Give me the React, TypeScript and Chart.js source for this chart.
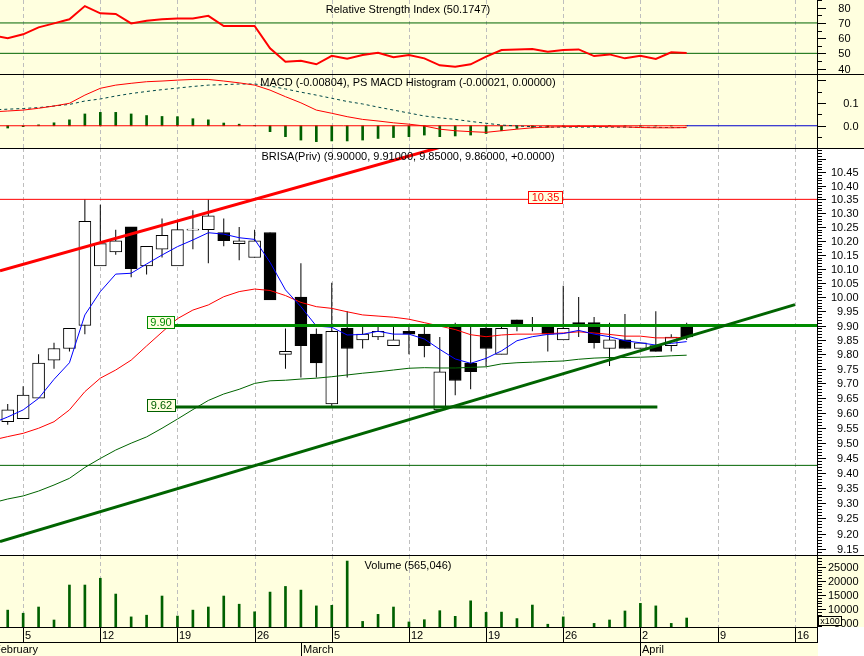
import React, { useEffect, useRef } from 'react';
import { Chart, registerables } from 'chart.js';

Chart.register(...registerables);

// ---------------- data ----------------
const weekTickIdx = [1, 6, 11, 16, 21, 26, 31, 36, 41, 46, 51];
const weekTickLabels = ['5', '12', '19', '26', '5', '12', '19', '26', '2', '9', '16'];
const monthStartIdx = [-1, 19, 41];
const monthLabels = ['February', 'March', 'April'];

// trading sessions 0..44 (2 Feb .. 5 Apr)
const openP = [9.57, 9.58, 9.65, 9.78, 9.82, 9.90, 10.11, 10.16, 10.25, 10.11, 10.17, 10.11, 10.238, 10.24, 10.23, 10.19, 10.14, 10.23, 9.80, 10.00, 9.87, 9.63, 9.89, 9.85, 9.86, 9.83, 9.88, 9.87, 9.61, 9.90, 9.77, 9.89, 9.80, 9.92, 9.90, 9.90, 9.85, 9.91, 9.91, 9.82, 9.85, 9.82, 9.83, 9.83, 9.90];
const highP = [9.63, 9.69, 9.80, 9.84, 9.89, 10.35, 10.33, 10.24, 10.25, 10.18, 10.28, 10.27, 10.31, 10.35, 10.28, 10.25, 10.24, 10.23, 9.89, 10.12, 9.89, 10.05, 9.95, 9.90, 9.90, 9.90, 9.90, 9.90, 9.86, 9.91, 9.90, 9.90, 9.90, 9.92, 9.93, 9.90, 10.04, 10.00, 9.93, 9.91, 9.94, 9.84, 9.95, 9.87, 9.91];
const lowP = [9.56, 9.58, 9.65, 9.75, 9.81, 9.87, 10.11, 10.15, 10.07, 10.08, 10.14, 10.11, 10.17, 10.12, 10.18, 10.13, 10.14, 9.99, 9.75, 9.72, 9.72, 9.62, 9.72, 9.82, 9.85, 9.83, 9.80, 9.79, 9.61, 9.66, 9.68, 9.76, 9.80, 9.88, 9.88, 9.81, 9.85, 9.86, 9.82, 9.76, 9.82, 9.82, 9.81, 9.81, 9.85];
const closeP = [9.61, 9.66, 9.77, 9.82, 9.89, 10.27, 10.19, 10.20, 10.10, 10.18, 10.22, 10.24, 10.242, 10.29, 10.20, 10.20, 10.20, 9.99, 9.81, 9.83, 9.77, 9.88, 9.82, 9.87, 9.88, 9.85, 9.87, 9.83, 9.74, 9.71, 9.74, 9.82, 9.89, 9.90, 9.901, 9.87, 9.89, 9.90, 9.84, 9.85, 9.82, 9.84, 9.81, 9.86, 9.86];
const volumeX100 = [9600, 8500, 10700, 6100, 18500, 18500, 20900, 15300, 7200, 7800, 14600, 7500, 9600, 10700, 14600, 11700, 9000, 16000, 18000, 16700, 11100, 11300, 27000, 5600, 8100, 10700, 5400, 6200, 9400, 7400, 12900, 8800, 8900, 6600, 11400, 4600, 7200, 3000, 4900, 6100, 9300, 12000, 11100, 4900, 6800];

// indicator series start one session earlier (index -1)
const seriesStart = -1;
const maFast = [9.565, 9.586, 9.610, 9.649, 9.714, 9.771, 9.937, 10.019, 10.081, 10.084, 10.117, 10.149, 10.179, 10.203, 10.229, 10.224, 10.211, 10.205, 10.123, 10.025, 9.966, 9.898, 9.894, 9.867, 9.869, 9.880, 9.870, 9.870, 9.853, 9.817, 9.784, 9.769, 9.786, 9.812, 9.847, 9.861, 9.869, 9.872, 9.883, 9.870, 9.861, 9.847, 9.840, 9.832, 9.838, 9.844];
const maMid = [9.508, 9.520, 9.531, 9.548, 9.570, 9.610, 9.672, 9.718, 9.746, 9.780, 9.829, 9.877, 9.924, 9.954, 9.972, 10.001, 10.019, 10.028, 10.023, 10.005, 9.981, 9.966, 9.960, 9.948, 9.937, 9.933, 9.929, 9.922, 9.910, 9.898, 9.886, 9.868, 9.861, 9.867, 9.870, 9.870, 9.872, 9.874, 9.878, 9.874, 9.869, 9.863, 9.863, 9.857, 9.857, 9.859];
const maSlow = [9.300, 9.313, 9.323, 9.339, 9.359, 9.381, 9.417, 9.447, 9.475, 9.498, 9.519, 9.548, 9.579, 9.611, 9.642, 9.664, 9.680, 9.700, 9.709, 9.711, 9.715, 9.718, 9.723, 9.729, 9.735, 9.740, 9.746, 9.752, 9.754, 9.753, 9.753, 9.755, 9.757, 9.767, 9.771, 9.773, 9.775, 9.777, 9.783, 9.787, 9.789, 9.789, 9.790, 9.792, 9.795, 9.797];
const rsi = [61.9, 59.9, 62.5, 67.1, 69.7, 72.4, 81.1, 76.3, 75.9, 69.7, 71.4, 72.4, 73.0, 73.0, 74.7, 68.0, 68.0, 68.0, 53.3, 44.5, 45.1, 42.8, 48.4, 46.4, 48.9, 50.4, 47.4, 48.9, 46.7, 42.1, 41.2, 42.8, 47.8, 52.2, 52.6, 52.8, 51.1, 52.2, 52.6, 48.2, 49.3, 46.7, 48.4, 46.3, 50.7, 50.1747];
const macd = [0.061, 0.065, 0.069, 0.077, 0.087, 0.099, 0.135, 0.165, 0.179, 0.187, 0.194, 0.197, 0.201, 0.204, 0.204, 0.197, 0.189, 0.179, 0.157, 0.128, 0.101, 0.069, 0.055, 0.040, 0.028, 0.021, 0.013, 0.007, -0.001, -0.015, -0.022, -0.026, -0.029, -0.022, -0.015, -0.009, -0.006, -0.004, -0.003, -0.003, -0.004, -0.005, -0.008, -0.009, -0.009, -0.00804];
const macdSignal = [0.070, 0.073, 0.076, 0.080, 0.087, 0.094, 0.109, 0.118, 0.131, 0.142, 0.151, 0.159, 0.166, 0.173, 0.179, 0.181, 0.184, 0.184, 0.175, 0.162, 0.148, 0.135, 0.121, 0.107, 0.096, 0.082, 0.069, 0.056, 0.043, 0.035, 0.028, 0.019, 0.011, 0.003, -0.001, -0.004, -0.006, -0.006, -0.006, -0.006, -0.006, -0.006, -0.007, -0.007, -0.008, -0.008];
// histogram sessions 0..44
const macdHist = [-0.010, -0.004, 0.004, 0.013, 0.026, 0.052, 0.059, 0.059, 0.052, 0.045, 0.041, 0.040, 0.031, 0.026, 0.012, 0.007, 0.002, -0.026, -0.048, -0.063, -0.070, -0.067, -0.067, -0.063, -0.056, -0.052, -0.048, -0.041, -0.048, -0.045, -0.041, -0.034, -0.022, -0.012, -0.009, -0.006, -0.004, -0.002, -0.002, 0.001, -0.001, -0.002, -0.001, -0.001, -0.00021];

// drawn studies (x in session index, y in price)
const redTrendX = [-0.5, 28.66];
const redTrendY = [10.093, 10.552];
const greenTrendX = [-0.5, 51.02];
const greenTrendY = [9.174, 9.973];
const resistance = 10.35;
const level990 = 9.9;
const level962 = 9.62;
const level942 = 9.424;
const levelStartIdx = 10.78;
const level962EndIdx = 42.1;
const rsiLevels = [70, 50];

// axis tick values
const priceMinor = Array.from({ length: 140 }, (_, k) => (914 + k) / 100);
const priceMajor = [9.15, 9.2, 9.25, 9.3, 9.35, 9.4, 9.45, 9.5, 9.55, 9.6, 9.65, 9.7, 9.75, 9.8, 9.85, 9.9, 9.95, 10.0, 10.05, 10.1, 10.15, 10.2, 10.25, 10.3, 10.35, 10.4, 10.45, 10.5];
const priceLabels = priceMajor.map((v) => (v > 10.46 ? '' : v.toFixed(2)));
const rsiMinor = [40, 45, 50, 55, 60, 65, 70, 75, 80, 85];
const rsiMajor = [40, 50, 60, 70, 80];
const rsiLabels = ['40', '50', '60', '70', '80'];
const macdMinor = [-0.05, 0.05, 0.15];
const macdMajor = [0, 0.1, 0.2];
const macdLabels = ['0.0', '0.1', ''];
const volMinor = Array.from({ length: 26 }, (_, k) => (4 + k) * 1000);
const volMajor = [5000, 10000, 15000, 20000, 25000];
const volLabels = ['5000', '10000', '15000', '20000', '25000'];

// ---------------- style ----------------
const AXIS_W = 46;
const X_MIN = -0.5;
const X_MAX = 52.51;
const FONT = '11px "Liberation Sans", Arial, sans-serif';
const PANEL_BG = '#FFFFDF';
const GRID = '#BEBEBE';

const pts = (arr: number[], start: number) => arr.map((v, i) => ({ x: start + i, y: v }));
const seg = (xs: number[], ys: number[]) => xs.map((x, i) => ({ x, y: ys[i] }));
const lineDs = (data: any[], color: string, width: number, order: number, dash: number[] = []) => ({
  type: 'line',
  data,
  borderColor: color,
  borderWidth: width,
  borderDash: dash,
  pointRadius: 0,
  tension: 0,
  fill: false,
  order,
});

function baseOptions(y: any, padBottom: number, plugin: any) {
  return {
    responsive: false,
    animation: false,
    events: [],
    layout: { autoPadding: false, padding: { left: 0, right: AXIS_W, top: 0, bottom: padBottom } },
    plugins: { legend: { display: false }, tooltip: { enabled: false }, title: { display: false } },
    scales: {
      x: { type: 'linear', min: X_MIN, max: X_MAX, offset: false, display: false },
      y: { display: false, bounds: 'data', beginAtZero: false, ...y },
    },
  };
}

function panelPlugin(cfg: any) {
  return {
    id: 'panelDeco',
    beforeDraw(chart: any) {
      const { ctx, chartArea: a, width, height } = chart;
      ctx.save();
      ctx.fillStyle = cfg.bg;
      ctx.fillRect(0, 0, a.right, a.bottom);
      ctx.fillStyle = cfg.axisBg;
      ctx.fillRect(a.right, 0, width - a.right, a.bottom);
      if (height > a.bottom) {
        ctx.fillStyle = PANEL_BG;
        ctx.fillRect(0, a.bottom, a.right, height - a.bottom);
        ctx.fillStyle = '#FFFFFF';
        ctx.fillRect(a.right, a.bottom, width - a.right, height - a.bottom);
      }
      ctx.restore();
    },
    beforeDatasetsDraw(chart: any) {
      const { ctx, chartArea: a } = chart;
      const xs = chart.scales.x;
      ctx.save();
      ctx.strokeStyle = GRID;
      ctx.lineWidth = 1;
      ctx.setLineDash([4, 3]);
      weekTickIdx.forEach((idx) => {
        const px = Math.round(xs.getPixelForValue(idx)) + 0.5;
        if (px > a.right - 2) return;
        ctx.beginPath();
        ctx.moveTo(px, a.top);
        ctx.lineTo(px, a.bottom);
        ctx.stroke();
      });
      ctx.restore();
    },
    afterDatasetsDraw(chart: any) {
      if (cfg.annotate) {
        chart.ctx.save();
        cfg.annotate(chart);
        chart.ctx.restore();
      }
    },
    afterDraw(chart: any) {
      const { ctx, chartArea: a, width } = chart;
      const ys = chart.scales.y;
      const axX = Math.round(a.right) - 1;
      ctx.save();
      ctx.fillStyle = '#000';
      ctx.fillRect(axX, 0, 1, a.bottom);
      cfg.minor.forEach((v: number) => {
        const py = Math.round(ys.getPixelForValue(v));
        if (py < 0 || py > a.bottom) return;
        ctx.fillRect(axX, py, 5, 1);
      });
      ctx.font = FONT;
      ctx.textAlign = 'right';
      ctx.textBaseline = 'middle';
      cfg.major.forEach((v: number, i: number) => {
        const py = Math.round(ys.getPixelForValue(v));
        if (py < 0 || py > a.bottom) return;
        ctx.fillRect(axX, py, 9, 1);
        if (cfg.labels[i]) ctx.fillText(cfg.labels[i], cfg.labelRight, py + 0.5);
      });
      if (cfg.topLine) ctx.fillRect(0, 0, width, 1);
      ctx.textAlign = 'center';
      ctx.fillText(cfg.title, (a.left + a.right) / 2 - 1, cfg.titleY);
      if (cfg.after) cfg.after(chart);
      ctx.restore();
    },
  };
}

function labelBox(chart: any, l0: number, r0: number, value: number, text: string, color: string, dy: number) {
  const { ctx } = chart;
  const xs = chart.scales.x;
  const ys = chart.scales.y;
  const l = Math.round(xs.getPixelForValue(l0)) + 0.5;
  const r = Math.round(xs.getPixelForValue(r0)) + 0.5;
  const top = Math.round(ys.getPixelForValue(value)) + dy + 0.5;
  const h = 12;
  ctx.fillStyle = PANEL_BG;
  ctx.fillRect(l, top, r - l, h);
  ctx.strokeStyle = color;
  ctx.lineWidth = 1;
  ctx.strokeRect(l, top, r - l, h);
  ctx.fillStyle = color;
  ctx.font = FONT;
  ctx.textAlign = 'center';
  ctx.textBaseline = 'middle';
  ctx.fillText(text, (l + r) / 2, top + h / 2 + 0.5);
}

function drawDateRows(chart: any) {
  const { ctx, chartArea: a, height } = chart;
  const xs = chart.scales.x;
  const y0 = Math.round(a.bottom);
  const axX = Math.round(a.right) - 1;
  ctx.fillStyle = '#000';
  ctx.fillRect(0, y0, axX + 1, 1);
  ctx.fillRect(0, y0 + 15, axX + 1, 1);
  ctx.fillRect(axX, y0, 1, 16);
  ctx.font = FONT;
  ctx.textAlign = 'left';
  ctx.textBaseline = 'middle';
  weekTickIdx.forEach((idx, i) => {
    const px = Math.round(xs.getPixelForValue(idx));
    if (px > axX - 2) return;
    ctx.fillRect(px, y0, 1, 15);
    ctx.fillText(weekTickLabels[i], px + 2, y0 + 8.5);
  });
  monthStartIdx.forEach((idx, i) => {
    const px = Math.round(xs.getPixelForValue(idx));
    ctx.fillRect(px, y0 + 15, 1, height - y0 - 15);
    ctx.fillText(monthLabels[i], px + 2, y0 + 23);
  });
  // x100 box
  ctx.fillStyle = PANEL_BG;
  ctx.fillRect(axX + 1.5, 61.5, 23, 9);
  ctx.strokeStyle = '#000';
  ctx.lineWidth = 1;
  ctx.strokeRect(axX + 1.5, 61.5, 23, 9);
  ctx.fillStyle = '#000';
  ctx.font = '9px "Liberation Sans", Arial, sans-serif';
  ctx.textAlign = 'center';
  ctx.fillText('x100', axX + 13, 66.5);
}

function rsiConfig(): any {
  const last = rsi[rsi.length - 1];
  const plugin = panelPlugin({
    bg: PANEL_BG, axisBg: PANEL_BG, topLine: false,
    title: `Relative Strength Index (${last.toFixed(4)})`, titleY: 10,
    minor: rsiMinor, major: rsiMajor, labels: rsiLabels, labelRight: 850.5,
  });
  return {
    type: 'line',
    data: {
      datasets: [
        ...rsiLevels.map((lv, i) => lineDs(seg([X_MIN, X_MAX], [lv, lv]), '#006400', 1, 5 + i)),
        lineDs(pts(rsi, seriesStart), '#FF0000', 2, 1),
      ],
    },
    options: baseOptions({ type: 'linear', min: 36.4, max: 85.1 }, 0, plugin),
    plugins: [plugin],
  };
}

function macdConfig(): any {
  const lastIdx = openP.length - 1;
  const plugin = panelPlugin({
    bg: PANEL_BG, axisBg: PANEL_BG, topLine: true,
    title: `MACD (${macd[macd.length - 1].toFixed(5)}), PS MACD Histogram (${macdHist[macdHist.length - 1].toFixed(5)}, 0.00000)`,
    titleY: 8.5,
    minor: macdMinor, major: macdMajor, labels: macdLabels, labelRight: 858.5,
  });
  return {
    type: 'bar',
    data: {
      datasets: [
        { type: 'bar', data: pts(macdHist, 0), backgroundColor: '#006000', borderWidth: 0, barThickness: 2, grouped: false, order: 10 },
        lineDs(seg([X_MIN, lastIdx], [0, 0]), '#FF0000', 1, 4),
        lineDs(seg([lastIdx, X_MAX], [0, 0]), '#0000CC', 1, 4),
        lineDs(pts(macdSignal, seriesStart), '#004848', 1, 3, [3, 3]),
        lineDs(pts(macd, seriesStart), '#FF0000', 1, 2),
      ],
    },
    options: baseOptions({ type: 'linear', min: -0.098, max: 0.228 }, 0, plugin),
    plugins: [plugin],
  };
}

function priceConfig(): any {
  const n = openP.length;
  const idx = openP.map((_, i) => i);
  const wicks = idx.map((i) => ({ x: i, y: [lowP[i], highP[i]] }));
  const bodies = idx.map((i) => ({ x: i, y: [Math.min(openP[i], closeP[i]), Math.max(openP[i], closeP[i])] }));
  const bodyFill = idx.map((i) => (closeP[i] >= openP[i] ? '#FFFFFF' : '#000000'));
  const plugin = panelPlugin({
    bg: '#FFFFFF', axisBg: '#FFFFFF', topLine: true,
    title: `BRISA(Priv) (${openP[n - 1].toFixed(5)}, ${highP[n - 1].toFixed(5)}, ${lowP[n - 1].toFixed(5)}, ${closeP[n - 1].toFixed(5)}, +0.0000)`,
    titleY: 8.5,
    minor: priceMinor, major: priceMajor, labels: priceLabels, labelRight: 858.5,
    annotate: (chart: any) => {
      labelBox(chart, 9.05, 10.78, level990, level990.toFixed(2), '#008C00', -10);
      labelBox(chart, 9.05, 10.85, level962, level962.toFixed(2), '#006000', -8);
      labelBox(chart, 33.74, 35.9, resistance, resistance.toFixed(2), '#FF0000', -8);
    },
  });
  return {
    type: 'bar',
    data: {
      datasets: [
        { type: 'bar', data: wicks, backgroundColor: '#000000', borderWidth: 0, barThickness: 1, inflateAmount: 0, grouped: false, order: 20 },
        { type: 'bar', data: bodies, backgroundColor: bodyFill, borderColor: '#000000', borderWidth: 1, borderSkipped: false, barThickness: 12, grouped: false, order: 19 },
        lineDs(pts(maSlow, seriesStart), '#006400', 1, 8),
        lineDs(pts(maMid, seriesStart), '#FF0000', 1, 7),
        lineDs(pts(maFast, seriesStart), '#0000FF', 1, 6),
        lineDs(seg([X_MIN, X_MAX], [level942, level942]), '#006400', 1, 5),
        lineDs(seg([X_MIN, X_MAX], [resistance, resistance]), '#FF0000', 1, 5),
        lineDs(seg([levelStartIdx, level962EndIdx], [level962, level962]), '#006000', 3, 4),
        lineDs(seg([levelStartIdx, X_MAX], [level990, level990]), '#008C00', 3, 4),
        lineDs(seg(greenTrendX, greenTrendY), '#006400', 3, 3),
        lineDs(seg(redTrendX, redTrendY), '#FF0000', 3, 3),
      ],
    },
    options: baseOptions({ type: 'logarithmic', min: 9.131, max: 10.539 }, 0, plugin),
    plugins: [plugin],
  };
}

function volumeConfig(): any {
  const plugin = panelPlugin({
    bg: PANEL_BG, axisBg: PANEL_BG, topLine: true,
    title: 'Volume (565,046)', titleY: 10.5,
    minor: volMinor, major: volMajor, labels: volLabels, labelRight: 858.5,
    after: drawDateRows,
  });
  return {
    type: 'bar',
    data: {
      datasets: [
        { type: 'bar', data: pts(volumeX100, 0), backgroundColor: '#006000', borderWidth: 0, barThickness: 2, grouped: false, order: 1 },
      ],
    },
    options: baseOptions({ type: 'linear', min: 3617, max: 29149 }, 29, plugin),
    plugins: [plugin],
  };
}

const panels = [
  { top: 0, height: 74, make: rsiConfig },
  { top: 74, height: 74, make: macdConfig },
  { top: 148, height: 407, make: priceConfig },
  { top: 555, height: 101, make: volumeConfig },
];

export default function App() {
  const refs = useRef<(HTMLCanvasElement | null)[]>([]);
  useEffect(() => {
    const charts = panels.map((p, i) => new Chart(refs.current[i] as HTMLCanvasElement, p.make()));
    return () => charts.forEach((c) => c.destroy());
  }, []);
  return (
    <div style={{ position: 'fixed', left: 0, top: 0, width: 864, height: 656, background: '#FFFFFF', overflow: 'hidden' }}>
      {panels.map((p, i) => (
        <canvas
          key={i}
          ref={(el) => { refs.current[i] = el; }}
          width={864}
          height={p.height}
          style={{ position: 'absolute', left: 0, top: p.top, width: 864, height: p.height }}
        />
      ))}
    </div>
  );
}
